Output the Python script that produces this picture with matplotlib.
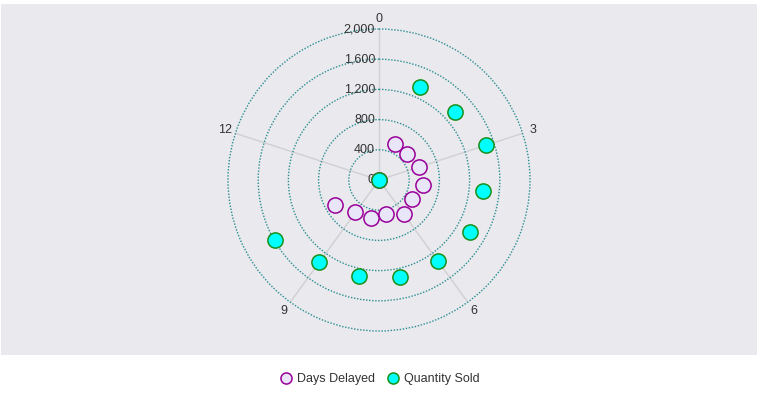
import numpy as np
import matplotlib
matplotlib.use("Agg")
import matplotlib.pyplot as plt
from matplotlib.patches import Rectangle
from matplotlib.lines import Line2D
import matplotlib.transforms as mtransforms

plt.rcParams["font.family"] = ["Liberation Sans", "DejaVu Sans"]

# ---- data ----
positions = [0, 1, 2, 3, 4, 5, 6, 7, 8, 9, 10]
days_delayed = [0, 520, 505, 555, 585, 505, 560, 465, 510, 530, 670]
quantity_sold = [0, 1345, 1355, 1490, 1385, 1385, 1330, 1320, 1300, 1350, 1590]
angle_ticks = [0, 3, 6, 9, 12]
angle_tick_labels = ["0", "3", "6", "9", "12"]
radial_ticks = [0, 400, 800, 1200, 1600, 2000]
radial_tick_labels = ["0", "400", "800", "1,200", "1,600", "2,000"]
period = 15
series_names = ["Days Delayed", "Quantity Sold"]

W, H = 763, 394
fig = plt.figure(figsize=(W / 100, H / 100), dpi=100)
fig.patch.set_facecolor("white")
bg = Rectangle((1 / W, 1 - 355 / H), 756 / W, 351 / H,
               transform=fig.transFigure, facecolor="#E9E9EE",
               edgecolor="none", zorder=-10)
fig.patches.append(bg)

cx, cy, R = 379, 180, 151
ax = fig.add_axes([(cx - R) / W, (H - cy - R) / H, 2 * R / W, 2 * R / H],
                  projection="polar")
ax.set_zorder(1)
ax.set_facecolor("none")
ax.set_theta_zero_location("N")
ax.set_theta_direction(-1)
ax.set_ylim(0, 2000)

def th(v):
    return np.asarray(v, dtype=float) * 2 * np.pi / period

ax.set_xticks(th(angle_ticks))
ax.set_xticklabels(angle_tick_labels, fontsize=9, color="#333333")
ax.tick_params(axis="x", pad=-3)
ax.set_yticks(radial_ticks)
ax.set_yticklabels([])
ax.xaxis.grid(True, color="#CFCFD4", linestyle="-", linewidth=1)
ax.yaxis.grid(True, color="#2A8F8F", linestyle=(0, (1, 1.2)), linewidth=1)
for gl in ax.yaxis.get_gridlines():
    gl.set_clip_on(False)
ax.spines["polar"].set_visible(False)

off = mtransforms.offset_copy(ax.transData, fig=fig, x=-4, y=0, units="dots")
for v, lab in zip(radial_ticks, radial_tick_labels):
    ax.text(0, v, lab, transform=off, ha="right", va="center",
            fontsize=9, color="#333333", zorder=2)

ax.scatter(th(positions), days_delayed, s=120, facecolor="#E8E6F8",
           edgecolor="#990099", linewidth=1.1, zorder=4, clip_on=False)
ax.scatter(th(positions), quantity_sold, s=120, facecolor="#00FFFF",
           edgecolor="#1A8F1A", linewidth=1.1, zorder=5, clip_on=False)

handles = [
    Line2D([], [], marker="o", linestyle="none", markersize=8,
           markerfacecolor="#E8E6F8", markeredgecolor="#990099", markeredgewidth=1.1),
    Line2D([], [], marker="o", linestyle="none", markersize=8,
           markerfacecolor="#00FFFF", markeredgecolor="#1A8F1A", markeredgewidth=1.1),
]
fig.legend(handles, series_names, loc="center", bbox_to_anchor=(379 / W, 1 - 379 / H),
           ncol=2, frameon=False, fontsize=9, handletextpad=0.3, handlelength=1.2,
           columnspacing=0.8, labelcolor="#333333")

fig.savefig("out.png", dpi=100)
